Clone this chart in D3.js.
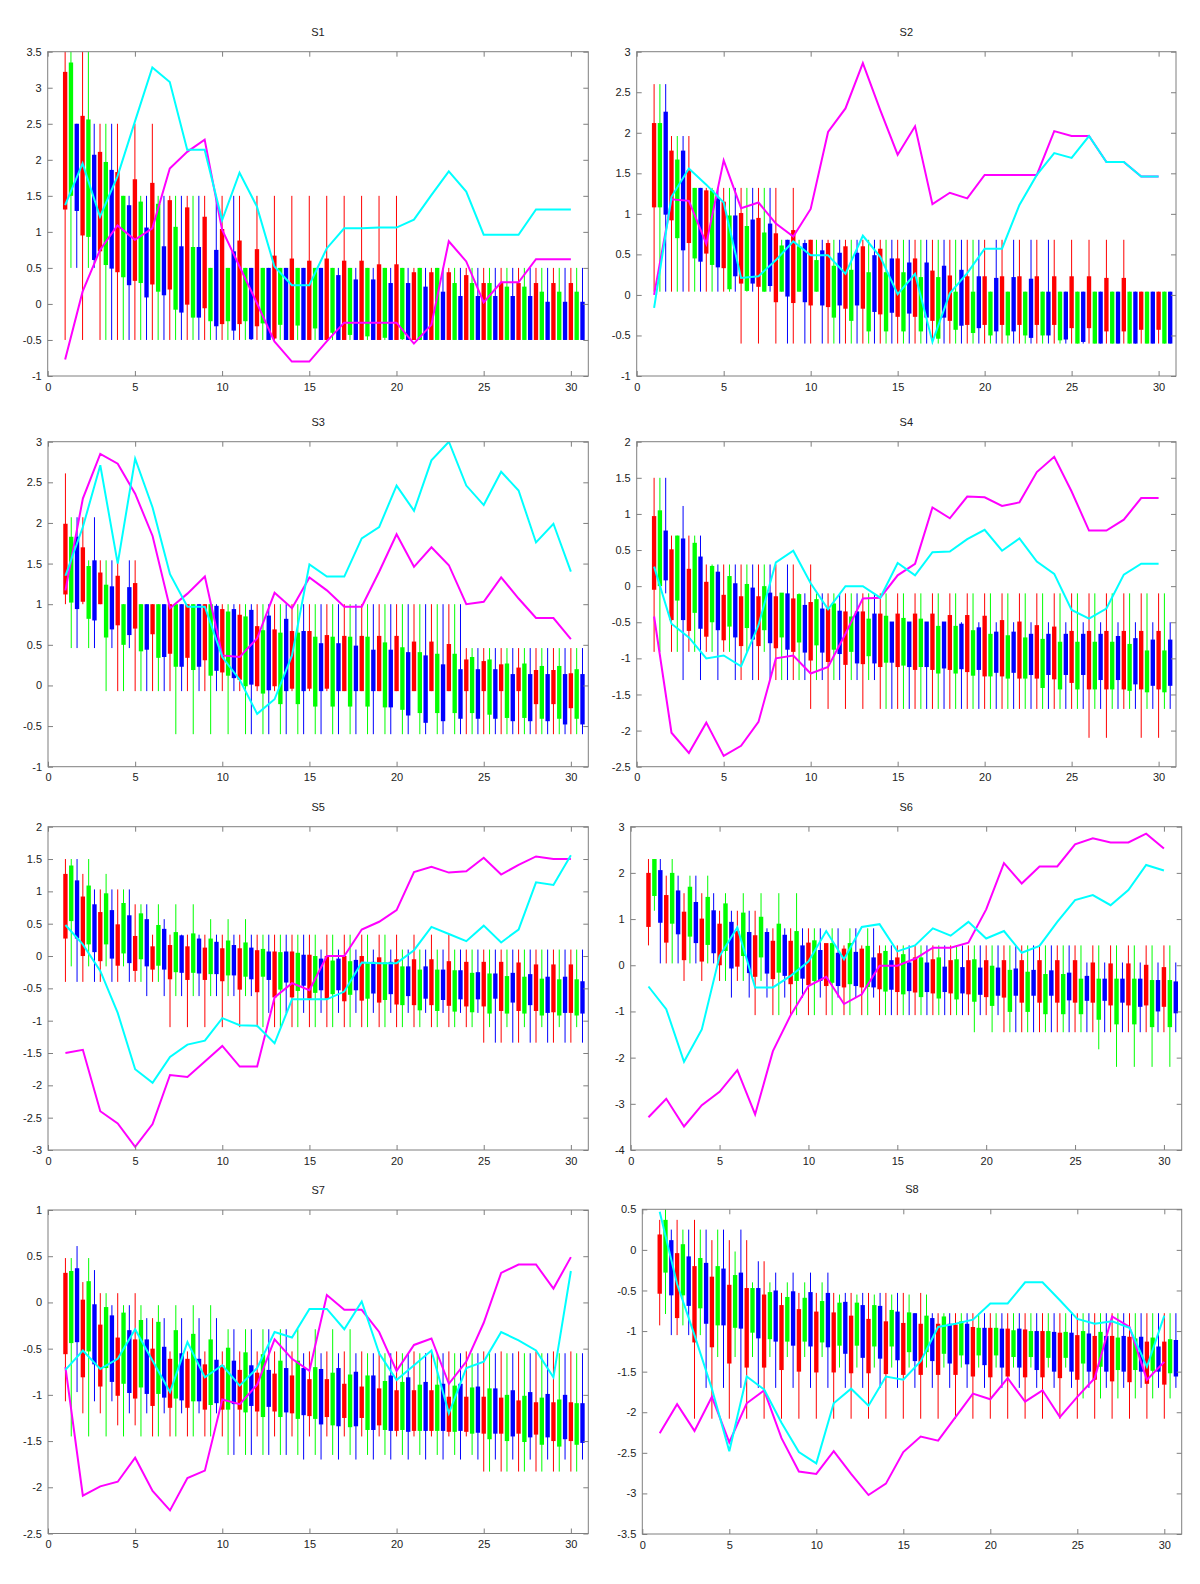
<!DOCTYPE html>
<html>
<head>
<meta charset="utf-8">
<script src="https://cdn.jsdelivr.net/npm/d3@7"></script>
<style>
  body { margin: 0; background: #fff; }
  text { font-family: "Liberation Sans", Arial, sans-serif; font-size: 11px; fill: #222; }
</style>
</head>
<body>
<svg id="chart" width="1200" height="1584"></svg>
<script>
// ---- data: candles are box top / box bottom / whisker low / whisker high, 30 steps each ----
var titles = ["S1", "S2", "S3", "S4", "S5", "S6", "S7", "S8"];
var xTicks = [0, 5, 10, 15, 20, 25, 30];
var yDomains = [[-1, 3.5], [-1, 3], [-1, 3], [-2.5, 2], [-3, 2], [-4, 3], [-2.5, 1], [-3.5, 0.5]];
var yTicks = [
  [-1, -0.5, 0, 0.5, 1, 1.5, 2, 2.5, 3, 3.5],
  [-1, -0.5, 0, 0.5, 1, 1.5, 2, 2.5, 3],
  [-1, -0.5, 0, 0.5, 1, 1.5, 2, 2.5, 3],
  [-2.5, -2, -1.5, -1, -0.5, 0, 0.5, 1, 1.5, 2],
  [-3, -2.5, -2, -1.5, -1, -0.5, 0, 0.5, 1, 1.5, 2],
  [-4, -3, -2, -1, 0, 1, 2, 3],
  [-2.5, -2, -1.5, -1, -0.5, 0, 0.5, 1],
  [-3.5, -3, -2.5, -2, -1.5, -1, -0.5, 0, 0.5]
];

// S1
var s1_rTop = [3.22,2.61,2.11,1.83,1.73,1.68,1.44,1.34,1.21,1.04,0.88,0.76,0.67,0.63,0.6,0.63,0.6,0.6,0.55,0.55,0.44,0.44,0.44,0.4,0.29,0.29,0.29,0.29,0.29,0.29];
var s1_rBot = [1.31,0.95,0.73,0.44,0.32,0.27,0.2,-0.01,-0.06,-0.28,-0.28,-0.31,-0.48,-0.5,-0.5,-0.5,-0.5,-0.5,-0.5,-0.5,-0.5,-0.5,-0.5,-0.5,-0.5,-0.5,-0.5,-0.5,-0.5,-0.5];
var s1_rLo  = [-0.5,-0.5,-0.5,-0.5,-0.5,-0.5,-0.5,-0.5,-0.5,-0.5,-0.5,-0.5,-0.5,-0.5,-0.5,-0.5,-0.5,-0.5,-0.5,-0.5,-0.5,-0.5,-0.5,-0.5,-0.5,-0.5,-0.5,-0.5,-0.5,-0.5];
var s1_rHi  = [3.7,3.7,2.5,2.5,2.5,2.5,1.5,1.5,1.5,1.5,1.5,1.5,1.5,1.5,1.5,1.5,1.5,1.5,1.5,1.5,0.5,0.5,0.5,0.5,0.5,0.5,0.5,0.5,0.5,0.5];
var s1_gTop = [3.35,2.56,1.97,1.5,1.42,1.39,1.07,0.79,0.5,0.5,0.5,0.5,0.5,0.5,0.5,0.5,0.5,0.5,0.5,0.5,0.5,0.5,0.29,0.29,0.29,0.24,0.24,0.17,0.17,0.17];
var s1_gBot = [1.5,0.93,0.54,0.37,0.29,0.17,-0.08,-0.19,-0.24,-0.24,-0.24,-0.27,-0.29,-0.3,-0.34,-0.4,-0.43,-0.45,-0.47,-0.49,-0.5,-0.5,-0.5,-0.5,-0.5,-0.5,-0.5,-0.5,-0.5,-0.5];
var s1_gLo  = [0.5,0.5,-0.5,-0.5,-0.5,-0.5,-0.5,-0.5,-0.5,-0.5,-0.5,-0.5,-0.5,-0.5,-0.5,-0.5,-0.5,-0.5,-0.5,-0.5,-0.5,-0.5,-0.5,-0.5,-0.5,-0.5,-0.5,-0.5,-0.5,-0.5];
var s1_gHi  = [3.7,3.7,2.5,1.5,1.5,1.5,1.5,1.5,0.5,0.5,0.5,0.5,0.5,0.5,0.5,0.5,0.5,0.5,0.5,0.5,0.5,0.5,0.5,0.5,0.5,0.5,0.5,0.5,0.5,0.5];
var s1_bTop = [2.5,2.07,1.86,1.37,1.06,0.8,0.8,0.79,0.75,0.73,0.5,0.5,0.5,0.5,0.5,0.4,0.34,0.34,0.29,0.29,0.24,0.17,0.11,0.11,0.11,0.11,0.11,0.03,0.03,0.03];
var s1_bBot = [1.29,0.61,0.49,0.26,0.09,0.12,-0.12,-0.19,-0.31,-0.37,-0.49,-0.5,-0.5,-0.5,-0.5,-0.5,-0.5,-0.5,-0.5,-0.5,-0.5,-0.5,-0.5,-0.5,-0.5,-0.5,-0.5,-0.5,-0.5,-0.5];
var s1_bLo  = [0.5,0.5,-0.5,-0.5,-0.5,-0.5,-0.5,-0.5,-0.5,-0.5,-0.5,-0.5,-0.5,-0.5,-0.5,-0.5,-0.5,-0.5,-0.5,-0.5,-0.5,-0.5,-0.5,-0.5,-0.5,-0.5,-0.5,-0.5,-0.5,-0.5];
var s1_bHi  = [2.5,2.5,2.5,1.5,1.5,1.5,1.5,1.5,1.5,1.5,0.5,0.5,0.5,0.5,0.5,0.5,0.5,0.5,0.5,0.5,0.5,0.5,0.5,0.5,0.5,0.5,0.5,0.5,0.5,0.5];
var s1_mag  = [-0.77,0.17,0.75,1.09,0.89,1.05,1.88,2.11,2.28,1.03,0.52,0.01,-0.52,-0.8,-0.8,-0.52,-0.26,-0.26,-0.26,-0.26,-0.55,-0.29,0.87,0.59,0.02,0.3,0.3,0.62,0.62,0.62];
var s1_cyan = [1.37,1.95,1.21,1.77,2.53,3.28,3.08,2.14,2.14,1.16,1.82,1.35,0.52,0.26,0.26,0.77,1.05,1.05,1.06,1.06,1.17,1.51,1.84,1.56,0.96,0.96,0.96,1.31,1.31,1.31];

// S2
var s2_rTop = [2.12,1.78,1.54,1.29,1.15,1.01,0.95,0.76,0.8,0.68,0.64,0.6,0.6,0.57,0.45,0.45,0.3,0.24,0.23,0.23,0.23,0.23,0.23,0.23,0.23,0.23,0.21,0.21,0.04,0.04];
var s2_rBot = [1.08,0.92,0.64,0.51,0.33,0.14,0.1,-0.09,-0.1,-0.13,-0.15,-0.17,-0.17,-0.24,-0.27,-0.27,-0.32,-0.32,-0.37,-0.37,-0.37,-0.37,-0.37,-0.37,-0.41,-0.41,-0.45,-0.45,-0.43,-0.43];
var s2_rLo  = [0.04,0.04,0.04,0.04,0.04,-0.6,-0.6,-0.6,-0.6,-0.6,-0.6,-0.6,-0.6,-0.6,-0.6,-0.6,-0.6,-0.6,-0.6,-0.6,-0.6,-0.6,-0.6,-0.6,-0.6,-0.6,-0.6,-0.6,-0.6,-0.6];
var s2_rHi  = [2.6,1.96,1.96,1.32,1.32,1.32,1.32,1.32,1.32,0.68,0.68,0.68,0.68,0.68,0.68,0.68,0.68,0.68,0.68,0.68,0.68,0.68,0.68,0.68,0.68,0.68,0.68,0.68,0.04,0.04];
var s2_gTop = [2.12,1.67,1.32,1.29,0.98,0.85,0.77,0.61,0.6,0.43,0.36,0.31,0.28,0.28,0.28,0.22,0.22,0.04,0.04,0.04,0.04,0.04,0.04,0.04,0.04,0.04,0.04,0.04,0.04,0.04];
var s2_gBot = [1.08,0.7,0.45,0.37,0.07,0.05,0.04,0.04,0.04,0.04,-0.28,-0.32,-0.45,-0.45,-0.45,-0.45,-0.54,-0.43,-0.47,-0.5,-0.5,-0.5,-0.5,-0.56,-0.6,-0.6,-0.6,-0.6,-0.6,-0.6];
var s2_gLo  = [0.04,0.04,0.04,0.04,0.04,0.04,0.04,0.04,0.04,0.04,-0.6,-0.6,-0.6,-0.6,-0.6,-0.6,-0.6,-0.6,-0.6,-0.6,-0.6,-0.6,-0.6,-0.6,-0.6,-0.6,-0.6,-0.6,-0.6,-0.6];
var s2_gHi  = [2.6,1.96,1.32,1.32,1.32,1.32,1.32,0.68,0.68,0.68,0.68,0.68,0.68,0.68,0.68,0.68,0.68,0.68,0.68,0.04,0.04,0.04,0.04,0.04,0.04,0.04,0.04,0.04,0.04,0.04];
var s2_bTop = [2.26,1.78,1.32,1.19,0.98,0.93,0.88,0.68,0.64,0.55,0.52,0.52,0.49,0.45,0.4,0.4,0.36,0.31,0.23,0.21,0.22,0.2,0.04,0.04,0.04,0.04,0.04,0.04,0.04,0.04];
var s2_bBot = [0.99,0.55,0.41,0.34,0.23,0.14,0.11,-0.02,-0.09,-0.13,-0.13,-0.13,-0.21,-0.22,-0.23,-0.28,-0.28,-0.38,-0.41,-0.45,-0.45,-0.53,-0.5,-0.55,-0.58,-0.6,-0.6,-0.6,-0.6,-0.6];
var s2_bLo  = [0.04,0.04,0.04,0.04,0.04,0.04,0.04,-0.6,-0.6,-0.6,-0.6,-0.6,-0.6,-0.6,-0.6,-0.6,-0.6,-0.6,-0.6,-0.6,-0.6,-0.6,-0.6,-0.6,-0.6,-0.6,-0.6,-0.6,-0.6,-0.6];
var s2_bHi  = [2.6,1.96,1.32,1.32,1.32,1.32,1.32,0.68,0.68,0.68,0.68,0.68,0.68,0.68,0.68,0.68,0.68,0.68,0.68,0.68,0.68,0.68,0.68,0.04,0.04,0.04,0.04,0.04,0.04,0.04];
var s2_mag  = [0.0,1.18,1.16,0.63,1.66,1.07,1.14,0.88,0.72,1.06,2.01,2.3,2.86,2.28,1.73,2.08,1.12,1.26,1.19,1.48,1.48,1.48,1.48,2.02,1.96,1.96,1.64,1.64,1.46,1.46];
var s2_cyan = [-0.16,1.21,1.56,1.36,1.14,0.21,0.23,0.43,0.66,0.49,0.49,0.26,0.73,0.47,0.01,0.26,-0.58,0.02,0.27,0.57,0.57,1.11,1.48,1.75,1.69,1.96,1.64,1.64,1.46,1.46];

// S3
var s3_rTop = [1.99,1.7,1.39,1.35,1.26,1.0,1.0,1.0,1.0,0.94,0.87,0.73,0.69,0.67,0.67,0.62,0.61,0.61,0.61,0.61,0.54,0.54,0.51,0.32,0.3,0.26,0.22,0.19,0.19,0.15];
var s3_rBot = [1.12,1.03,1.0,0.74,0.7,0.63,0.39,0.34,0.31,0.16,0.07,-0.01,-0.01,-0.04,-0.04,-0.04,-0.07,-0.07,-0.07,-0.07,-0.07,-0.07,-0.07,-0.07,-0.07,-0.07,-0.07,-0.23,-0.23,-0.28];
var s3_rLo  = [1.0,1.0,1.0,-0.07,-0.07,-0.07,-0.07,-0.07,-0.07,-0.07,-0.07,-0.07,-0.07,-0.07,-0.07,-0.07,-0.07,-0.07,-0.07,-0.07,-0.07,-0.07,-0.07,-0.6,-0.6,-0.6,-0.6,-0.6,-0.6,-0.6];
var s3_rHi  = [2.61,2.07,1.54,1.54,1.54,1.0,1.0,1.0,1.0,1.0,1.0,1.0,1.0,1.0,1.0,1.0,1.0,1.0,1.0,1.0,1.0,1.0,1.0,0.46,0.46,0.46,0.46,0.46,0.46,0.46];
var s3_gTop = [1.83,1.47,1.24,1.0,1.0,1.0,1.0,1.0,1.0,0.91,0.85,0.68,0.65,0.65,0.6,0.6,0.6,0.6,0.53,0.47,0.41,0.39,0.39,0.35,0.32,0.27,0.27,0.24,0.24,0.2];
var s3_gBot = [1.02,0.82,0.59,0.5,0.42,0.34,0.23,0.19,0.12,0.12,-0.01,-0.1,-0.23,-0.23,-0.26,-0.26,-0.26,-0.26,-0.27,-0.3,-0.34,-0.34,-0.34,-0.34,-0.36,-0.4,-0.4,-0.41,-0.41,-0.41];
var s3_gLo  = [0.46,0.46,-0.07,-0.07,-0.07,-0.07,-0.6,-0.6,-0.6,-0.6,-0.6,-0.6,-0.6,-0.6,-0.6,-0.6,-0.6,-0.6,-0.6,-0.6,-0.6,-0.6,-0.6,-0.6,-0.6,-0.6,-0.6,-0.6,-0.6,-0.6];
var s3_gHi  = [2.07,1.54,1.54,1.0,1.0,1.0,1.0,1.0,1.0,1.0,1.0,1.0,1.0,1.0,1.0,1.0,1.0,1.0,1.0,1.0,1.0,1.0,1.0,0.46,0.46,0.46,0.46,0.46,0.46,0.46];
var s3_bTop = [1.83,1.54,1.22,1.21,1.0,1.0,1.0,1.0,0.98,0.94,0.93,0.86,0.82,0.67,0.52,0.52,0.49,0.44,0.44,0.41,0.37,0.26,0.2,0.2,0.2,0.14,0.14,0.14,0.14,0.14];
var s3_bBot = [0.94,0.8,0.69,0.62,0.44,0.35,0.23,0.23,0.18,0.09,0.01,-0.06,-0.07,-0.07,-0.07,-0.07,-0.07,-0.07,-0.27,-0.37,-0.46,-0.44,-0.41,-0.41,-0.41,-0.44,-0.44,-0.44,-0.48,-0.48];
var s3_bLo  = [0.46,0.46,0.46,0.46,-0.07,-0.07,-0.07,-0.07,-0.07,-0.07,-0.6,-0.6,-0.6,-0.6,-0.6,-0.6,-0.6,-0.6,-0.6,-0.6,-0.6,-0.6,-0.6,-0.6,-0.6,-0.6,-0.6,-0.6,-0.6,-0.6];
var s3_bHi  = [2.07,2.07,1.54,1.54,1.0,1.0,1.0,1.0,1.0,1.0,1.0,1.0,1.0,1.0,1.0,1.0,1.0,1.0,1.0,1.0,1.0,1.0,1.0,0.46,0.46,0.46,0.46,0.46,0.46,0.46];
var s3_mag  = [1.17,2.3,2.85,2.73,2.36,1.84,0.95,1.13,1.34,0.37,0.35,0.58,1.14,0.95,1.33,1.17,0.97,0.97,1.4,1.86,1.46,1.7,1.48,1.0,1.03,1.33,1.07,0.83,0.83,0.57];
var s3_cyan = [1.35,1.95,2.71,1.5,2.79,2.19,1.37,0.97,0.97,0.35,0.07,-0.35,-0.17,0.37,1.49,1.34,1.34,1.81,1.95,2.46,2.15,2.77,3.0,2.46,2.22,2.63,2.4,1.76,1.99,1.4];

// S4
var s4_rTop = [0.97,0.51,0.24,0.06,-0.12,-0.14,-0.14,-0.14,-0.17,-0.22,-0.31,-0.35,-0.35,-0.38,-0.38,-0.38,-0.38,-0.4,-0.4,-0.41,-0.47,-0.49,-0.54,-0.56,-0.62,-0.62,-0.62,-0.62,-0.62,-0.62];
var s4_rBot = [-0.05,-0.47,-0.62,-0.7,-0.75,-0.83,-0.83,-0.86,-0.91,-1.03,-1.05,-1.09,-1.08,-1.12,-1.12,-1.16,-1.16,-1.16,-1.19,-1.25,-1.25,-1.28,-1.28,-1.29,-1.34,-1.43,-1.43,-1.43,-1.43,-1.43];
var s4_rLo  = [-0.91,-0.91,-0.91,-0.91,-0.91,-1.3,-1.3,-1.3,-1.3,-1.7,-1.7,-1.7,-1.7,-1.7,-1.7,-1.7,-1.7,-1.7,-1.7,-1.7,-1.7,-1.7,-1.7,-1.7,-1.7,-2.1,-2.1,-1.7,-2.1,-2.1];
var s4_rHi  = [1.5,0.7,0.7,0.3,0.3,0.3,0.3,0.3,0.3,0.3,-0.1,-0.1,-0.1,-0.1,-0.1,-0.1,-0.1,-0.1,-0.1,-0.1,-0.1,-0.1,-0.1,-0.1,-0.1,-0.1,-0.1,-0.1,-0.1,-0.1];
var s4_gTop = [1.05,0.7,0.6,0.28,0.14,0.03,0.0,-0.09,-0.11,-0.18,-0.24,-0.42,-0.45,-0.41,-0.44,-0.45,-0.55,-0.55,-0.61,-0.66,-0.68,-0.71,-0.73,-0.77,-0.77,-0.77,-0.77,-0.8,-0.89,-0.89];
var s4_gBot = [0.0,-0.2,-0.37,-0.5,-0.56,-0.58,-0.61,-0.71,-0.78,-0.82,-0.88,-0.91,-0.97,-1.06,-1.1,-1.12,-1.21,-1.21,-1.24,-1.25,-1.28,-1.28,-1.41,-1.43,-1.43,-1.43,-1.43,-1.45,-1.47,-1.47];
var s4_gLo  = [-0.91,-0.91,-0.91,-0.91,-0.91,-0.91,-0.91,-1.3,-1.3,-1.3,-1.3,-1.3,-1.3,-1.7,-1.7,-1.7,-1.7,-1.7,-1.7,-1.7,-1.7,-1.7,-1.7,-1.7,-1.7,-1.7,-1.7,-1.7,-1.7,-1.7];
var s4_gHi  = [1.5,0.7,0.7,0.3,0.3,0.3,0.3,-0.1,-0.1,-0.1,-0.1,-0.1,-0.1,-0.1,-0.1,-0.1,-0.1,-0.1,-0.1,-0.1,-0.1,-0.1,-0.1,-0.1,-0.1,-0.1,-0.1,-0.1,-0.1,-0.1];
var s4_bTop = [0.77,0.66,0.41,0.2,0.04,-0.02,-0.09,-0.1,-0.26,-0.31,-0.34,-0.35,-0.38,-0.49,-0.49,-0.49,-0.49,-0.52,-0.57,-0.63,-0.63,-0.66,-0.66,-0.66,-0.66,-0.66,-0.69,-0.72,-0.74,-0.74];
var s4_bBot = [0.08,-0.47,-0.59,-0.61,-0.71,-0.74,-0.79,-0.88,-0.92,-0.92,-0.94,-1.07,-1.07,-1.06,-1.12,-1.12,-1.14,-1.15,-1.16,-1.2,-1.2,-1.23,-1.23,-1.23,-1.23,-1.3,-1.3,-1.36,-1.38,-1.38];
var s4_bLo  = [-0.1,-1.3,-1.3,-1.3,-1.3,-1.3,-1.3,-1.3,-1.3,-1.3,-1.3,-1.3,-1.3,-1.7,-1.7,-1.7,-1.7,-1.7,-1.7,-1.7,-1.7,-1.7,-1.7,-1.7,-1.7,-1.7,-1.7,-1.7,-1.7,-1.7];
var s4_bHi  = [1.5,1.11,0.7,0.3,0.3,0.3,0.3,0.3,-0.1,-0.1,-0.1,-0.1,-0.1,-0.5,-0.5,-0.5,-0.5,-0.5,-0.5,-0.5,-0.5,-0.5,-0.5,-0.5,-0.5,-0.5,-0.5,-0.5,-0.5,-0.5];
var s4_mag  = [-0.42,-2.03,-2.31,-1.89,-2.35,-2.21,-1.88,-1.0,-0.96,-1.21,-1.12,-0.66,-0.17,-0.16,0.15,0.31,1.09,0.94,1.24,1.23,1.11,1.16,1.58,1.79,1.31,0.77,0.77,0.92,1.22,1.22];
var s4_cyan = [0.27,-0.52,-0.71,-1.0,-0.96,-1.11,-0.54,0.33,0.49,0.04,-0.32,0.0,0.0,-0.16,0.32,0.15,0.47,0.48,0.65,0.78,0.49,0.66,0.34,0.17,-0.33,-0.45,-0.31,0.16,0.31,0.31];

// S5
var s5_rTop = [1.27,0.92,0.68,0.49,0.31,0.15,0.17,0.15,0.13,0.12,0.12,0.09,0.07,0.07,0.02,0.0,0.0,0.0,-0.02,-0.05,-0.05,-0.05,-0.08,-0.09,-0.09,-0.09,-0.1,-0.13,-0.13,-0.13];
var s5_rBot = [0.27,0.0,-0.08,-0.15,-0.23,-0.21,-0.36,-0.37,-0.37,-0.39,-0.52,-0.56,-0.64,-0.64,-0.66,-0.66,-0.7,-0.69,-0.72,-0.75,-0.76,-0.76,-0.77,-0.78,-0.78,-0.85,-0.85,-0.85,-0.87,-0.88];
var s5_rLo  = [-0.4,-0.4,-0.4,-0.4,-0.4,-0.4,-1.1,-1.1,-1.1,-1.1,-1.1,-1.1,-1.1,-1.1,-1.1,-1.1,-1.1,-1.1,-1.1,-1.1,-1.1,-1.1,-1.1,-1.1,-1.34,-1.34,-1.34,-1.34,-1.34,-1.34];
var s5_rHi  = [1.5,1.27,1.03,1.03,0.8,0.33,0.33,0.33,0.33,0.33,0.33,0.33,0.33,0.33,0.33,0.33,0.33,0.33,0.33,0.33,0.33,0.33,0.33,0.1,0.1,0.1,0.1,0.1,0.1,0.1];
var s5_gTop = [1.4,1.09,0.97,0.82,0.66,0.48,0.37,0.35,0.27,0.24,0.21,0.11,0.06,0.05,0.0,-0.07,-0.08,-0.1,-0.1,-0.16,-0.21,-0.21,-0.22,-0.26,-0.27,-0.31,-0.32,-0.35,-0.36,-0.36];
var s5_gBot = [0.54,0.18,0.18,0.04,-0.05,-0.15,-0.25,-0.26,-0.28,-0.3,-0.32,-0.32,-0.52,-0.54,-0.57,-0.59,-0.6,-0.66,-0.68,-0.76,-0.84,-0.85,-0.86,-0.87,-0.89,-0.89,-0.89,-0.92,-0.92,-0.92];
var s5_gLo  = [-0.16,-0.16,-0.16,-0.16,-0.4,-0.4,-0.62,-0.62,-0.62,-0.62,-0.62,-1.1,-1.1,-1.1,-1.1,-1.1,-1.1,-1.1,-1.1,-1.1,-1.1,-1.1,-1.1,-1.1,-1.1,-1.1,-1.1,-1.1,-1.1,-1.1];
var s5_gHi  = [1.5,1.5,1.27,1.03,0.8,0.8,0.8,0.8,0.57,0.57,0.57,0.33,0.33,0.33,0.33,0.33,0.33,0.33,0.33,0.1,0.1,0.1,0.1,0.1,0.1,0.1,0.1,0.1,0.1,0.1];
var s5_bTop = [1.17,0.8,0.71,0.63,0.57,0.42,0.32,0.27,0.22,0.17,0.13,0.07,0.07,0.02,-0.04,-0.04,-0.06,-0.09,-0.09,-0.16,-0.16,-0.21,-0.22,-0.25,-0.27,-0.26,-0.28,-0.32,-0.32,-0.39];
var s5_bBot = [0.27,0.06,-0.04,-0.11,-0.16,-0.21,-0.26,-0.27,-0.28,-0.3,-0.36,-0.37,-0.41,-0.46,-0.53,-0.53,-0.53,-0.58,-0.59,-0.62,-0.66,-0.68,-0.67,-0.67,-0.66,-0.72,-0.76,-0.88,-0.88,-0.89];
var s5_bLo  = [-0.4,-0.4,-0.4,-0.4,-0.62,-0.62,-0.62,-0.62,-0.62,-0.62,-0.62,-0.88,-0.88,-0.88,-0.88,-0.88,-0.88,-0.88,-0.88,-0.88,-0.88,-0.88,-0.88,-0.88,-1.34,-1.34,-1.34,-1.34,-1.34,-1.34];
var s5_bHi  = [1.5,1.03,1.03,1.03,0.8,0.57,0.33,0.33,0.33,0.33,0.33,0.33,0.33,0.33,0.1,0.1,0.1,0.1,0.1,0.1,0.1,0.1,0.1,0.1,0.1,0.1,0.1,0.1,0.1,0.1];
var s5_mag  = [-1.5,-1.45,-2.4,-2.59,-2.95,-2.6,-1.84,-1.87,-1.63,-1.39,-1.71,-1.71,-0.64,-0.42,-0.53,0.0,0.0,0.41,0.53,0.71,1.3,1.38,1.29,1.31,1.52,1.26,1.41,1.54,1.5,1.5];
var s5_cyan = [0.48,0.18,-0.23,-0.88,-1.75,-1.96,-1.56,-1.37,-1.31,-0.96,-1.07,-1.08,-1.35,-0.67,-0.67,-0.67,-0.55,-0.1,-0.11,-0.11,0.09,0.45,0.34,0.23,0.47,0.21,0.41,1.14,1.1,1.56];

// S6
var s6_rTop = [2.0,1.52,1.16,1.01,0.9,0.74,0.65,0.53,0.53,0.49,0.48,0.36,0.36,0.26,0.17,0.17,0.13,0.11,0.11,0.11,0.11,0.11,0.11,0.11,0.11,0.06,0.04,0.04,0.01,-0.04];
var s6_rBot = [0.83,0.49,0.11,0.08,0.0,-0.03,-0.25,-0.3,-0.41,-0.43,-0.45,-0.48,-0.48,-0.52,-0.58,-0.59,-0.61,-0.61,-0.63,-0.69,-0.7,-0.81,-0.81,-0.81,-0.81,-0.81,-0.87,-0.87,-0.87,-0.9];
var s6_rLo  = [0.43,0.04,-0.34,-0.34,-0.34,-0.34,-1.08,-1.08,-1.08,-1.08,-1.08,-1.08,-1.08,-1.08,-1.08,-1.08,-1.08,-1.08,-1.08,-1.08,-1.45,-1.45,-1.45,-1.45,-1.45,-1.45,-1.45,-1.45,-1.45,-1.45];
var s6_rHi  = [2.3,1.94,1.56,1.56,1.18,1.18,1.18,0.8,0.8,0.8,0.43,0.43,0.43,0.43,0.43,0.43,0.43,0.43,0.43,0.43,0.43,0.43,0.43,0.43,0.43,0.43,0.43,0.43,0.43,0.43];
var s6_gTop = [2.3,2.0,1.7,1.48,1.34,1.14,1.05,0.9,0.74,0.54,0.48,0.48,0.42,0.31,0.24,0.17,0.17,0.13,0.13,-0.01,-0.1,-0.14,-0.19,-0.19,-0.29,-0.29,-0.29,-0.29,-0.32,-0.32];
var s6_gBot = [1.5,0.9,0.62,0.44,0.31,0.2,0.17,-0.16,-0.34,-0.34,-0.38,-0.41,-0.47,-0.57,-0.63,-0.69,-0.72,-0.74,-0.79,-0.88,-1.01,-1.01,-1.06,-1.06,-1.06,-1.18,-1.28,-1.28,-1.34,-1.34];
var s6_gLo  = [1.18,0.04,0.04,0.04,-0.34,-0.34,-0.34,-1.08,-1.08,-1.08,-1.08,-1.08,-1.08,-1.08,-1.08,-1.08,-1.08,-1.08,-1.45,-1.45,-1.45,-1.45,-1.45,-1.45,-1.45,-1.82,-2.2,-2.2,-2.2,-2.2];
var s6_gHi  = [2.3,2.3,1.94,1.94,1.56,1.56,1.56,1.56,1.56,0.8,0.8,0.8,0.8,0.43,0.43,0.43,0.43,0.43,0.43,0.43,0.43,0.43,0.43,0.43,0.43,0.43,0.43,0.43,0.43,0.43];
var s6_bTop = [2.06,1.62,1.37,1.19,0.94,0.72,0.72,0.66,0.43,0.33,0.27,0.29,0.17,0.11,0.06,0.06,-0.03,-0.04,-0.05,-0.05,-0.07,-0.1,-0.11,-0.16,-0.23,-0.29,-0.29,-0.29,-0.32,-0.35];
var s6_bBot = [0.92,0.67,0.48,0.26,-0.07,-0.17,-0.18,-0.23,-0.29,-0.34,-0.45,-0.45,-0.48,-0.53,-0.56,-0.58,-0.58,-0.61,-0.64,-0.66,-0.66,-0.66,-0.66,-0.76,-0.77,-0.77,-0.81,-0.9,-1.0,-1.04];
var s6_bLo  = [0.04,0.04,0.04,0.04,-0.7,-0.7,-0.7,-0.7,-0.7,-0.7,-0.7,-0.7,-0.7,-1.08,-1.08,-1.08,-1.08,-1.08,-1.08,-1.08,-1.45,-1.45,-1.45,-1.45,-1.45,-1.45,-1.45,-1.45,-1.45,-1.45];
var s6_bHi  = [2.3,1.94,1.94,1.56,1.18,1.18,0.8,0.8,0.8,0.8,0.8,0.8,0.8,0.43,0.43,0.43,0.43,0.43,0.43,0.43,0.43,0.43,0.43,0.43,0.06,0.06,0.06,0.06,0.06,0.06];
var s6_mag  = [-3.29,-2.89,-3.49,-3.03,-2.74,-2.27,-3.23,-1.86,-1.08,-0.45,-0.25,-0.84,-0.63,-0.01,-0.01,0.14,0.38,0.38,0.49,1.21,2.21,1.77,2.14,2.14,2.62,2.75,2.66,2.66,2.85,2.53];
var s6_cyan = [-0.46,-0.95,-2.09,-1.39,0.2,0.82,-0.48,-0.48,-0.23,0.08,0.74,0.13,0.83,0.89,0.3,0.43,0.8,0.64,0.94,0.58,0.74,0.27,0.42,0.94,1.41,1.52,1.3,1.63,2.17,2.05];

// S7
var s7_rTop = [0.32,0.03,-0.24,-0.38,-0.4,-0.5,-0.61,-0.61,-0.67,-0.68,-0.73,-0.76,-0.77,-0.79,-0.83,-0.83,-0.88,-0.91,-0.93,-0.95,-0.95,-0.95,-1.02,-1.02,-1.02,-1.03,-1.06,-1.08,-1.08,-1.08];
var s7_rBot = [-0.56,-0.81,-0.91,-1.01,-1.04,-1.12,-1.14,-1.14,-1.16,-1.16,-1.16,-1.18,-1.18,-1.2,-1.23,-1.24,-1.25,-1.25,-1.33,-1.39,-1.39,-1.39,-1.4,-1.4,-1.42,-1.42,-1.42,-1.43,-1.5,-1.5];
var s7_rLo  = [-1.07,-1.2,-1.2,-1.33,-1.33,-1.45,-1.45,-1.45,-1.45,-1.45,-1.45,-1.45,-1.45,-1.45,-1.45,-1.45,-1.45,-1.45,-1.45,-1.45,-1.45,-1.45,-1.45,-1.45,-1.83,-1.83,-1.83,-1.83,-1.83,-1.83];
var s7_rHi  = [0.48,0.22,0.1,0.1,0.1,-0.17,-0.53,-0.53,-0.53,-0.53,-0.53,-0.53,-0.53,-0.53,-0.53,-0.53,-0.53,-0.53,-0.53,-0.53,-0.53,-0.53,-0.53,-0.53,-0.53,-0.53,-0.53,-0.53,-0.53,-0.53];
var s7_gTop = [0.34,0.23,-0.05,-0.11,-0.19,-0.21,-0.3,-0.34,-0.4,-0.49,-0.54,-0.56,-0.63,-0.63,-0.7,-0.76,-0.78,-0.79,-0.85,-0.86,-0.89,-0.89,-0.9,-0.92,-0.93,-1.0,-1.01,-1.03,-1.05,-1.09];
var s7_gBot = [-0.44,-0.53,-0.71,-0.88,-0.92,-0.99,-1.04,-1.07,-1.11,-1.16,-1.19,-1.24,-1.24,-1.26,-1.26,-1.33,-1.35,-1.38,-1.38,-1.38,-1.39,-1.39,-1.4,-1.42,-1.48,-1.5,-1.51,-1.54,-1.56,-1.54];
var s7_gLo  = [-1.45,-1.45,-1.45,-1.45,-1.45,-1.45,-1.45,-1.45,-1.45,-1.65,-1.65,-1.65,-1.65,-1.65,-1.65,-1.65,-1.65,-1.65,-1.65,-1.65,-1.65,-1.65,-1.65,-1.65,-1.83,-1.83,-1.83,-1.83,-1.83,-1.83];
var s7_gHi  = [0.48,0.48,0.1,-0.03,-0.03,-0.03,-0.03,-0.03,-0.03,-0.29,-0.29,-0.29,-0.29,-0.29,-0.29,-0.29,-0.29,-0.55,-0.55,-0.55,-0.55,-0.55,-0.55,-0.55,-0.55,-0.55,-0.55,-0.55,-0.55,-0.55];
var s7_bTop = [0.37,-0.02,-0.14,-0.3,-0.4,-0.48,-0.55,-0.61,-0.62,-0.63,-0.68,-0.73,-0.71,-0.71,-0.72,-0.71,-0.75,-0.79,-0.79,-0.81,-0.86,-0.88,-0.88,-0.91,-0.93,-0.95,-0.97,-0.99,-1.0,-1.09];
var s7_bBot = [-0.43,-0.67,-0.86,-0.98,-0.99,-1.03,-1.06,-1.07,-1.09,-1.1,-1.12,-1.13,-1.19,-1.22,-1.32,-1.34,-1.34,-1.38,-1.39,-1.4,-1.39,-1.39,-1.39,-1.41,-1.42,-1.45,-1.46,-1.46,-1.48,-1.52];
var s7_bLo  = [-0.97,-1.07,-1.07,-1.2,-1.2,-1.2,-1.2,-1.2,-1.2,-1.65,-1.65,-1.65,-1.65,-1.7,-1.7,-1.7,-1.7,-1.7,-1.7,-1.7,-1.7,-1.7,-1.7,-1.7,-1.7,-1.7,-1.7,-1.7,-1.7,-1.7];
var s7_bHi  = [0.61,0.35,-0.03,-0.03,-0.17,-0.17,-0.17,-0.17,-0.17,-0.29,-0.29,-0.29,-0.29,-0.55,-0.55,-0.55,-0.55,-0.55,-0.55,-0.55,-0.55,-0.55,-0.55,-0.55,-0.55,-0.55,-0.55,-0.55,-0.55,-0.55];
var s7_mag  = [-0.7,-2.09,-1.99,-1.94,-1.68,-2.04,-2.25,-1.9,-1.82,-1.05,-1.1,-0.89,-0.4,-0.61,-0.74,0.08,-0.08,-0.08,-0.32,-0.74,-0.46,-0.39,-0.88,-0.64,-0.22,0.32,0.41,0.41,0.15,0.49];
var s7_cyan = [-0.73,-0.52,-0.72,-0.61,-0.29,-0.63,-0.97,-0.43,-0.81,-0.68,-0.9,-0.71,-0.32,-0.38,-0.07,-0.07,-0.29,0.01,-0.55,-0.84,-0.68,-0.52,-1.2,-0.71,-0.64,-0.32,-0.41,-0.52,-0.81,0.34];

// S8
var s8_rTop = [0.19,-0.04,-0.2,-0.33,-0.43,-0.47,-0.55,-0.68,-0.73,-0.76,-0.77,-0.81,-0.85,-0.88,-0.9,-0.91,-0.91,-0.92,-0.95,-0.96,-0.97,-0.98,-1.0,-1.02,-1.05,-1.06,-1.06,-1.07,-1.13,-1.13];
var s8_rBot = [-0.54,-0.84,-1.14,-1.2,-1.4,-1.45,-1.45,-1.48,-1.5,-1.51,-1.51,-1.52,-1.52,-1.53,-1.54,-1.54,-1.54,-1.54,-1.56,-1.57,-1.56,-1.57,-1.57,-1.58,-1.6,-1.6,-1.62,-1.63,-1.65,-1.66];
var s8_rLo  = [-0.93,-1.05,-2.08,-2.08,-2.08,-2.08,-2.08,-2.08,-2.08,-2.08,-2.08,-2.08,-2.08,-2.08,-2.08,-2.08,-2.08,-2.08,-2.08,-2.08,-2.08,-2.08,-2.08,-2.08,-2.08,-2.08,-2.08,-2.08,-2.08,-2.08];
var s8_rHi  = [0.37,0.37,0.37,0.12,0.12,0.12,-0.14,-0.53,-0.53,-0.53,-0.53,-0.53,-0.53,-0.53,-0.53,-0.53,-0.78,-0.78,-0.78,-0.78,-0.78,-0.78,-0.78,-0.78,-0.78,-0.78,-0.78,-0.78,-0.78,-0.78];
var s8_gTop = [0.37,0.07,-0.1,-0.2,-0.31,-0.47,-0.52,-0.58,-0.59,-0.63,-0.65,-0.65,-0.68,-0.74,-0.77,-0.81,-0.82,-0.88,-0.96,-0.96,-0.99,-1.0,-1.0,-1.01,-1.0,-1.01,-1.08,-1.09,-1.08,-1.1];
var s8_gBot = [-0.28,-0.56,-0.72,-0.93,-0.96,-1.02,-1.1,-1.13,-1.13,-1.14,-1.18,-1.18,-1.19,-1.19,-1.26,-1.26,-1.28,-1.3,-1.3,-1.3,-1.32,-1.32,-1.33,-1.33,-1.4,-1.44,-1.48,-1.48,-1.49,-1.52];
var s8_gLo  = [-0.79,-0.93,-1.05,-1.32,-1.32,-1.32,-1.32,-1.32,-1.32,-1.32,-1.45,-1.45,-1.45,-1.45,-1.45,-1.45,-1.45,-1.45,-1.45,-1.45,-1.45,-1.45,-1.45,-1.45,-1.83,-1.83,-1.83,-1.83,-1.83,-1.83];
var s8_gHi  = [0.55,0.25,0.25,0.25,-0.02,-0.4,-0.4,-0.4,-0.4,-0.4,-0.55,-0.55,-0.55,-0.55,-0.55,-0.55,-0.78,-0.78,-0.78,-0.78,-0.78,-0.78,-0.78,-0.78,-0.78,-0.78,-0.78,-0.78,-0.78,-0.78];
var s8_bTop = [0.12,-0.08,-0.16,-0.23,-0.28,-0.47,-0.5,-0.51,-0.52,-0.53,-0.64,-0.68,-0.69,-0.76,-0.78,-0.84,-0.91,-0.91,-0.96,-0.97,-0.97,-1.0,-1.01,-1.02,-1.03,-1.06,-1.06,-1.07,-1.19,-1.11];
var s8_bBot = [-0.56,-0.69,-0.91,-0.93,-0.97,-1.09,-1.13,-1.18,-1.19,-1.2,-1.28,-1.33,-1.34,-1.36,-1.37,-1.37,-1.4,-1.41,-1.42,-1.45,-1.45,-1.48,-1.5,-1.5,-1.5,-1.5,-1.5,-1.5,-1.5,-1.56];
var s8_bLo  = [-1.05,-1.05,-1.7,-1.7,-1.7,-1.7,-1.7,-1.7,-1.7,-1.7,-1.7,-1.7,-1.7,-1.7,-1.7,-1.7,-1.7,-1.7,-1.7,-1.7,-1.7,-1.7,-1.7,-1.7,-1.7,-1.7,-1.7,-1.7,-1.7,-1.7];
var s8_bHi  = [0.25,0.25,0.25,0.25,0.25,-0.14,-0.28,-0.28,-0.28,-0.28,-0.53,-0.53,-0.53,-0.53,-0.78,-0.78,-0.78,-0.78,-0.78,-0.78,-0.78,-0.78,-0.78,-0.78,-0.78,-0.78,-0.78,-0.78,-0.78,-0.78];
var s8_mag  = [-2.26,-1.9,-2.23,-1.81,-2.37,-1.89,-1.73,-2.32,-2.73,-2.76,-2.48,-2.76,-3.02,-2.88,-2.49,-2.3,-2.35,-2.06,-1.77,-1.84,-1.58,-1.87,-1.73,-2.06,-1.81,-1.58,-0.82,-0.95,-1.6,-1.38];
var s8_cyan = [0.47,-0.42,-1.05,-1.71,-2.48,-1.56,-1.72,-2.13,-2.49,-2.63,-1.89,-1.71,-1.92,-1.56,-1.6,-1.37,-0.95,-0.91,-0.86,-0.66,-0.66,-0.4,-0.4,-0.62,-0.85,-0.91,-0.88,-0.96,-1.44,-0.81];

// ---- layout (pixel frame of each plot area) ----
var frames = [
  {l: 47.7, r: 588.3, t: 51.7, b: 376},
  {l: 636.7, r: 1176, t: 51.7, b: 376},
  {l: 48, r: 588.3, t: 441.7, b: 766.7},
  {l: 636.7, r: 1176, t: 441.7, b: 766.7},
  {l: 48, r: 588.3, t: 826.7, b: 1150},
  {l: 630.7, r: 1181.7, t: 826.7, b: 1150},
  {l: 48, r: 588.3, t: 1210, b: 1533.5},
  {l: 642.3, r: 1181.7, t: 1209.3, b: 1534}
];

var candleColors = ["#ff0000", "#00ff00", "#0000ff"];
var slotOffset = [0, 1/3, 2/3];

function candles(top, bot, lo, hi) { return {top: top, bot: bot, lo: lo, hi: hi}; }

var panels = [
  {series: [candles(s1_rTop, s1_rBot, s1_rLo, s1_rHi), candles(s1_gTop, s1_gBot, s1_gLo, s1_gHi), candles(s1_bTop, s1_bBot, s1_bLo, s1_bHi)], mag: s1_mag, cyan: s1_cyan},
  {series: [candles(s2_rTop, s2_rBot, s2_rLo, s2_rHi), candles(s2_gTop, s2_gBot, s2_gLo, s2_gHi), candles(s2_bTop, s2_bBot, s2_bLo, s2_bHi)], mag: s2_mag, cyan: s2_cyan},
  {series: [candles(s3_rTop, s3_rBot, s3_rLo, s3_rHi), candles(s3_gTop, s3_gBot, s3_gLo, s3_gHi), candles(s3_bTop, s3_bBot, s3_bLo, s3_bHi)], mag: s3_mag, cyan: s3_cyan},
  {series: [candles(s4_rTop, s4_rBot, s4_rLo, s4_rHi), candles(s4_gTop, s4_gBot, s4_gLo, s4_gHi), candles(s4_bTop, s4_bBot, s4_bLo, s4_bHi)], mag: s4_mag, cyan: s4_cyan},
  {series: [candles(s5_rTop, s5_rBot, s5_rLo, s5_rHi), candles(s5_gTop, s5_gBot, s5_gLo, s5_gHi), candles(s5_bTop, s5_bBot, s5_bLo, s5_bHi)], mag: s5_mag, cyan: s5_cyan},
  {series: [candles(s6_rTop, s6_rBot, s6_rLo, s6_rHi), candles(s6_gTop, s6_gBot, s6_gLo, s6_gHi), candles(s6_bTop, s6_bBot, s6_bLo, s6_bHi)], mag: s6_mag, cyan: s6_cyan},
  {series: [candles(s7_rTop, s7_rBot, s7_rLo, s7_rHi), candles(s7_gTop, s7_gBot, s7_gLo, s7_gHi), candles(s7_bTop, s7_bBot, s7_bLo, s7_bHi)], mag: s7_mag, cyan: s7_cyan},
  {series: [candles(s8_rTop, s8_rBot, s8_rLo, s8_rHi), candles(s8_gTop, s8_gBot, s8_gLo, s8_gHi), candles(s8_bTop, s8_bBot, s8_bLo, s8_bHi)], mag: s8_mag, cyan: s8_cyan}
];

var svg = d3.select("#chart");
var borderColor = "#7f7f7f";

panels.forEach(function(p, k) {
  var f = frames[k];
  var x = d3.scaleLinear().domain([0, 31]).range([f.l, f.r]);
  var y = d3.scaleLinear().domain(yDomains[k]).range([f.b, f.t]);
  var bw = (x(0.25) - x(0));
  var steps = d3.range(30);

  var g = svg.append("g");

  g.append("clipPath").attr("id", "clip" + k)
    .append("rect")
      .attr("x", f.l).attr("y", f.t)
      .attr("width", f.r - f.l).attr("height", f.b - f.t);

  var plot = g.append("g").attr("clip-path", "url(#clip" + k + ")");

  // candlesticks, one series after the other
  p.series.forEach(function(s, j) {
    var sg = plot.append("g");
    sg.selectAll("line").data(steps).join("line")
      .attr("x1", function(i) { return x(i + 1 + slotOffset[j]); })
      .attr("x2", function(i) { return x(i + 1 + slotOffset[j]); })
      .attr("y1", function(i) { return y(s.lo[i]); })
      .attr("y2", function(i) { return y(s.hi[i]); })
      .attr("stroke", candleColors[j])
      .attr("stroke-width", 1);
    sg.selectAll("rect").data(steps).join("rect")
      .attr("x", function(i) { return x(i + 1 + slotOffset[j]) - bw / 2; })
      .attr("y", function(i) { return y(Math.max(s.top[i], s.bot[i])); })
      .attr("width", bw)
      .attr("height", function(i) { return Math.abs(y(s.bot[i]) - y(s.top[i])); })
      .attr("fill", candleColors[j]);
  });

  var line = d3.line()
    .x(function(v, i) { return x(i + 1); })
    .y(function(v) { return y(v); });

  plot.append("path").datum(p.mag)
    .attr("d", line)
    .attr("fill", "none").attr("stroke", "#ff00ff").attr("stroke-width", 2);
  plot.append("path").datum(p.cyan)
    .attr("d", line)
    .attr("fill", "none").attr("stroke", "#00ffff").attr("stroke-width", 2);

  // axes with inward ticks on all four sides
  var fmt = function(d) { return String(d); };
  var bottom = g.append("g").attr("transform", "translate(0," + f.b + ")")
    .call(d3.axisBottom(x).tickValues(xTicks).tickFormat(fmt).tickSizeInner(-5).tickSizeOuter(0).tickPadding(7));
  var top = g.append("g").attr("transform", "translate(0," + f.t + ")")
    .call(d3.axisTop(x).tickValues(xTicks).tickFormat("").tickSizeInner(-5).tickSizeOuter(0));
  var left = g.append("g").attr("transform", "translate(" + f.l + ",0)")
    .call(d3.axisLeft(y).tickValues(yTicks[k]).tickFormat(fmt).tickSizeInner(-5).tickSizeOuter(0).tickPadding(6));
  var right = g.append("g").attr("transform", "translate(" + f.r + ",0)")
    .call(d3.axisRight(y).tickValues(yTicks[k]).tickFormat("").tickSizeInner(-5).tickSizeOuter(0));

  [bottom, top, left, right].forEach(function(a) {
    a.select(".domain").remove();
    a.selectAll(".tick line").attr("stroke", borderColor);
    a.selectAll("text").attr("fill", "#222")
      .style("font-family", "'Liberation Sans', Arial, sans-serif").style("font-size", "11px");
  });

  g.append("rect")
    .attr("x", f.l).attr("y", f.t)
    .attr("width", f.r - f.l).attr("height", f.b - f.t)
    .attr("fill", "none").attr("stroke", borderColor).attr("stroke-width", 1);

  g.append("text")
    .attr("x", (f.l + f.r) / 2).attr("y", f.t - 16)
    .attr("text-anchor", "middle")
    .text(titles[k]);
});
</script>
</body>
</html>
